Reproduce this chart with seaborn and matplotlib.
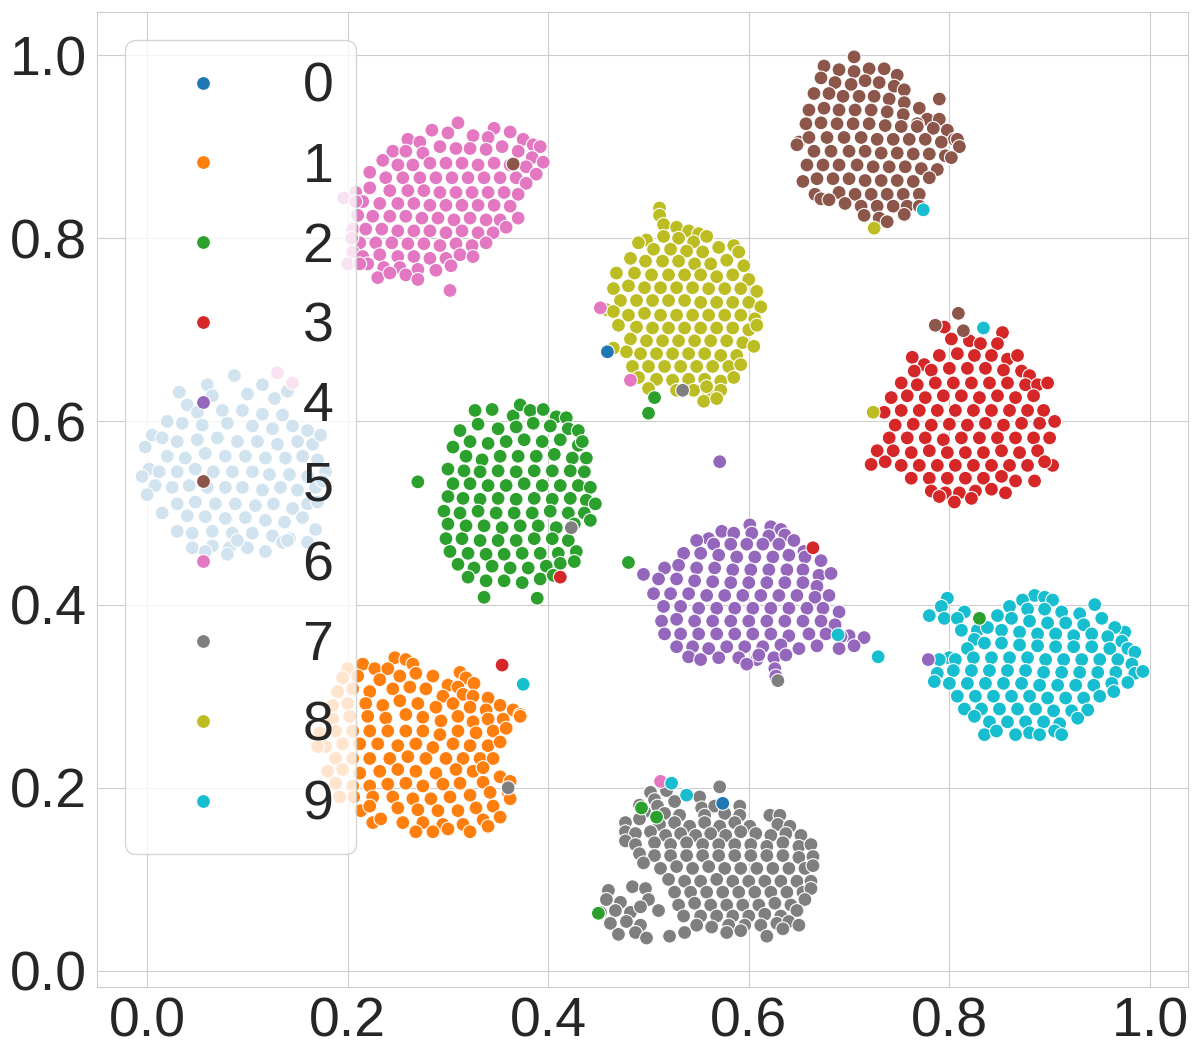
import matplotlib
matplotlib.use("Agg")
import matplotlib.pyplot as plt
import seaborn as sns
import pandas as pd

pts_0 = [(.087,.650),(.060,.640),(.032,.632),(.065,.628),(.040,.618),(.100,.630),(.127,.625),(.140,.633),(.115,.640),
(.050,.610),(.075,.612),(.095,.612),(.115,.608),(.135,.607),(.005,.585),(.020,.600),(.035,.598),(.055,.596),(.080,.598),(.105,.595),(.125,.592),(.145,.595),(.160,.590),
(-.002,.572),(.015,.582),(.030,.578),(.050,.580),(.070,.582),(.090,.578),(.110,.578),(.130,.575),(.150,.578),(.165,.575),(.173,.585),
(.002,.548),(.020,.562),(.038,.560),(.058,.565),(.078,.562),(.098,.562),(.118,.560),(.138,.560),(.155,.562),(.170,.558),
(-.005,.540),(.012,.545),(.030,.545),(.048,.548),(.066,.545),(.085,.545),(.105,.545),(.122,.542),(.142,.542),(.160,.540),(.178,.545),
(.008,.530),(.025,.528),(.042,.530),(.060,.528),(.078,.528),(.095,.528),(.115,.525),(.133,.528),(.150,.525),(.168,.528),(.175,.535),
(.000,.520),(.030,.510),(.048,.512),(.068,.510),(.088,.510),(.108,.508),(.126,.510),(.145,.505),(.160,.510),(.170,.512),
(.015,.500),(.040,.497),(.058,.496),(.078,.494),(.098,.495),(.118,.492),(.137,.490),(.155,.495),(.168,.482),
(.030,.480),(.045,.478),(.065,.480),(.085,.478),(.105,.478),(.125,.475),(.142,.472),(.160,.468),
(.045,.462),(.065,.464),(.082,.462),(.100,.462),(.118,.458),(.135,.468),(.140,.470),(.058,.458),(.090,.470),(.080,.455)]

pts_1 = [(.247,.342),(.258,.340),(.265,.335),(.215,.335),(.227,.330),(.240,.330),(.200,.330),(.312,.326),(.318,.320),
(.195,.320),(.210,.322),(.232,.318),(.252,.322),(.268,.325),(.285,.322),(.300,.312),(.310,.310),(.326,.314),
(.190,.305),(.205,.308),(.222,.305),(.245,.308),(.262,.310),(.278,.308),(.295,.300),(.315,.302),(.325,.300),(.340,.298),
(.185,.290),(.200,.292),(.218,.292),(.235,.290),(.252,.295),(.270,.292),(.288,.288),(.305,.292),(.322,.288),(.338,.285),(.352,.290),(.365,.285),(.372,.280),
(.185,.275),(.202,.278),(.220,.278),(.238,.276),(.258,.280),(.275,.277),(.293,.273),(.310,.278),(.325,.272),(.340,.275),(.355,.275),(.372,.278),
(.172,.260),(.188,.262),(.205,.262),(.222,.262),(.240,.262),(.258,.262),(.275,.262),(.292,.258),(.310,.262),(.328,.260),(.345,.262),(.358,.265),
(.178,.245),(.195,.248),(.212,.248),(.230,.248),(.250,.246),(.268,.248),(.285,.244),(.305,.248),(.322,.246),(.340,.246),(.352,.250),
(.170,.245),(.188,.232),(.205,.232),(.222,.232),(.242,.232),(.260,.234),(.278,.232),(.298,.232),(.315,.232),(.332,.232),(.345,.232),
(.180,.218),(.195,.220),(.212,.216),(.232,.218),(.250,.220),(.268,.218),(.288,.216),(.308,.220),(.325,.218),(.335,.222),
(.188,.205),(.205,.202),(.222,.202),(.240,.204),(.258,.205),(.275,.202),(.295,.204),(.312,.205),(.335,.206),(.352,.212),(.362,.207),
(.192,.190),(.206,.190),(.225,.190),(.245,.190),(.265,.188),(.283,.188),(.302,.190),(.322,.192),(.342,.195),(.360,.195),
(.213,.175),(.222,.180),(.250,.178),(.270,.176),(.290,.175),(.310,.175),(.328,.178),(.345,.180),(.362,.188),
(.225,.162),(.233,.166),(.255,.162),(.275,.162),(.295,.160),(.315,.160),(.335,.165),(.352,.168),
(.268,.152),(.285,.152),(.300,.155),(.322,.152),(.340,.158)]

pts_2 = [(.327,.612),(.344,.613),(.365,.606),(.372,.618),(.382,.612),(.395,.613),(.408,.605),(.418,.604),
(.312,.590),(.330,.597),(.350,.592),(.368,.594),(.385,.598),(.402,.595),(.420,.592),(.430,.590),
(.305,.572),(.322,.578),(.340,.576),(.358,.578),(.376,.580),(.394,.578),(.412,.580),(.430,.574),(.434,.578),
(.318,.562),(.334,.558),(.352,.562),(.370,.562),(.388,.562),(.406,.564),(.424,.560),(.438,.560),
(.300,.548),(.316,.546),(.332,.545),(.350,.546),(.368,.545),(.386,.546),(.404,.546),(.422,.546),(.436,.545),
(.305,.532),(.322,.532),(.340,.530),(.358,.530),(.376,.532),(.394,.530),(.412,.530),(.430,.530),(.442,.528),
(.300,.518),(.315,.516),(.332,.515),(.350,.516),(.368,.515),(.386,.516),(.404,.515),(.422,.516),(.438,.514),(.447,.510),
(.296,.502),(.312,.500),(.330,.502),(.348,.500),(.366,.500),(.384,.500),(.402,.502),(.420,.500),(.436,.500),
(.300,.488),(.318,.486),(.336,.486),(.354,.484),(.372,.486),(.390,.486),(.408,.484),(.426,.488),(.442,.492),
(.298,.472),(.314,.472),(.332,.470),(.350,.470),(.368,.470),(.386,.472),(.404,.472),(.420,.470),
(.302,.458),(.320,.456),(.338,.455),(.356,.455),(.374,.456),(.392,.456),(.410,.456),(.428,.458),
(.310,.444),(.326,.440),(.344,.442),(.362,.440),(.380,.440),(.398,.442),(.412,.445),
(.320,.430),(.338,.426),(.356,.426),(.374,.424),(.392,.428),(.405,.432),(.336,.408),(.389,.407)]

pts_3 = [(.795,.703),(.820,.688),(.802,.690),(.831,.685),(.853,.697),(.848,.685),(.763,.670),
(.775,.662),(.790,.672),(.808,.674),(.825,.672),(.842,.672),(.858,.668),(.868,.672),
(.765,.655),(.782,.656),(.800,.658),(.818,.658),(.836,.658),(.854,.656),(.872,.655),(.880,.650),
(.752,.642),(.768,.640),(.786,.642),(.804,.642),(.822,.642),(.840,.642),(.858,.642),(.876,.640),(.888,.640),
(.742,.626),(.758,.628),(.776,.626),(.794,.628),(.812,.628),(.830,.626),(.848,.628),(.866,.626),(.884,.628),(.898,.642),
(.735,.610),(.752,.612),(.770,.612),(.788,.612),(.806,.612),(.824,.612),(.842,.612),(.860,.612),(.878,.612),(.894,.612),
(.746,.596),(.764,.597),(.782,.596),(.800,.597),(.818,.596),(.836,.598),(.854,.596),(.872,.598),(.890,.598),(.905,.600),
(.740,.582),(.758,.582),(.776,.582),(.794,.580),(.812,.582),(.830,.582),(.848,.582),(.866,.582),(.884,.582),(.900,.582),
(.728,.568),(.744,.568),(.762,.566),(.780,.568),(.798,.566),(.816,.566),(.834,.566),(.852,.568),(.870,.566),(.888,.568),
(.722,.553),(.736,.556),(.752,.552),(.770,.552),(.788,.552),(.806,.552),(.824,.552),(.842,.552),(.860,.552),(.878,.552),(.903,.552),(.895,.556),
(.762,.538),(.780,.538),(.798,.538),(.816,.538),(.834,.538),(.852,.540),(.866,.535),(.885,.535),
(.782,.524),(.796,.522),(.810,.522),(.826,.524),(.842,.526),(.856,.522),(.805,.512),(.790,.518),(.822,.516)]

pts_4 = [(.601,.487),(.622,.485),(.632,.482),(.573,.480),(.585,.478),(.603,.478),(.620,.475),(.636,.476),(.560,.472),
(.548,.470),(.565,.466),(.582,.466),(.598,.466),(.614,.466),(.630,.466),(.645,.470),(.655,.458),
(.535,.456),(.552,.456),(.570,.454),(.588,.452),(.606,.452),(.624,.452),(.640,.454),(.656,.452),(.672,.448),
(.516,.440),(.530,.443),(.548,.440),(.566,.440),(.584,.438),(.602,.438),(.620,.438),(.638,.438),(.654,.438),(.670,.432),(.682,.434),
(.495,.433),(.510,.428),(.528,.428),(.546,.426),(.564,.425),(.582,.424),(.600,.424),(.618,.424),(.636,.424),(.654,.424),(.668,.420),
(.505,.412),(.522,.412),(.540,.412),(.558,.410),(.576,.410),(.594,.410),(.612,.410),(.630,.410),(.648,.410),(.666,.408),(.680,.410),
(.515,.398),(.532,.398),(.550,.396),(.568,.396),(.586,.396),(.604,.396),(.622,.396),(.640,.396),(.658,.396),(.674,.396),(.690,.392),
(.513,.382),(.528,.384),(.546,.382),(.564,.382),(.582,.382),(.600,.382),(.618,.382),(.636,.382),(.654,.382),(.672,.382),(.686,.378),(.700,.366),
(.516,.368),(.532,.368),(.550,.368),(.568,.368),(.586,.368),(.604,.368),(.622,.368),(.640,.366),(.660,.368),(.677,.368),(.692,.365),(.715,.364),(.705,.355),(.690,.352),
(.528,.354),(.544,.354),(.560,.352),(.578,.354),(.596,.354),(.614,.354),(.632,.356),(.650,.352),(.668,.355),
(.540,.343),(.552,.340),(.570,.342),(.590,.342),(.608,.340),(.625,.342),(.598,.335),(.626,.330),(.627,.322),(.610,.345),(.637,.345)]

pts_5 = [(.705,.998),(.675,.988),(.690,.984),(.705,.982),(.720,.985),(.735,.985),(.748,.978),
(.672,.975),(.686,.970),(.702,.968),(.716,.972),(.730,.970),(.745,.966),(.755,.962),(.680,.958),
(.665,.958),(.694,.955),(.710,.955),(.725,.955),(.740,.952),(.755,.948),(.770,.942),(.790,.952),(.778,.930),
(.660,.940),(.675,.942),(.690,.940),(.706,.940),(.722,.940),(.738,.938),(.754,.935),(.768,.925),(.790,.930),
(.657,.925),(.672,.926),(.688,.925),(.704,.925),(.720,.925),(.736,.923),(.752,.922),(.768,.922),(.784,.920),(.798,.918),(.805,.908),
(.650,.905),(.660,.910),(.678,.910),(.695,.910),(.712,.910),(.728,.908),(.744,.908),(.760,.908),(.776,.908),(.792,.905),(.808,.908),(.810,.900),
(.648,.902),(.665,.895),(.682,.895),(.700,.895),(.716,.895),(.732,.893),(.748,.893),(.764,.892),(.780,.892),(.796,.890),(.802,.888),
(.658,.880),(.674,.880),(.690,.880),(.708,.880),(.724,.878),(.740,.878),(.756,.878),(.772,.876),(.788,.875),
(.654,.862),(.668,.865),(.684,.865),(.700,.865),(.716,.863),(.732,.863),(.748,.863),(.764,.862),(.780,.866),
(.666,.848),(.672,.843),(.690,.850),(.706,.848),(.722,.848),(.738,.848),(.754,.848),(.770,.848),
(.680,.842),(.696,.838),(.712,.835),(.728,.835),(.744,.835),(.758,.835),(.770,.835),
(.715,.825),(.730,.822),(.738,.818),(.755,.826)]

pts_6 = [(.310,.926),(.284,.918),(.300,.915),(.346,.920),(.362,.916),(.260,.908),(.272,.905),(.325,.912),(.340,.910),(.375,.908),(.385,.902),(.392,.900),
(.245,.895),(.258,.895),(.275,.893),(.292,.900),(.308,.898),(.322,.898),(.338,.897),(.354,.900),(.370,.895),(.384,.888),(.395,.883),
(.235,.885),(.250,.880),(.265,.880),(.282,.882),(.298,.882),(.314,.882),(.330,.880),(.346,.882),(.362,.880),(.378,.878),(.388,.870),
(.222,.872),(.238,.866),(.255,.866),(.272,.866),(.288,.866),(.304,.866),(.320,.866),(.336,.866),(.352,.866),(.368,.866),(.378,.860),
(.208,.850),(.222,.855),(.242,.852),(.260,.852),(.276,.852),(.292,.850),(.308,.850),(.324,.850),(.340,.850),(.356,.850),(.370,.848),
(.215,.840),(.232,.838),(.250,.838),(.266,.838),(.282,.836),(.298,.836),(.314,.836),(.330,.836),(.346,.836),(.362,.835),
(.210,.825),(.225,.824),(.242,.824),(.258,.824),(.274,.822),(.290,.822),(.306,.820),(.322,.822),(.338,.820),(.352,.820),(.370,.822),
(.205,.810),(.218,.810),(.234,.810),(.250,.808),(.266,.808),(.282,.808),(.298,.806),(.314,.808),(.330,.806),(.345,.806),(.358,.812),
(.212,.795),(.228,.795),(.244,.795),(.260,.794),(.276,.794),(.292,.792),(.308,.794),(.324,.792),(.338,.795),
(.205,.785),(.215,.780),(.232,.782),(.250,.780),(.266,.780),(.282,.778),(.298,.778),(.312,.782),(.325,.780),
(.220,.772),(.236,.768),(.252,.768),(.270,.766),(.288,.765),(.303,.770),(.230,.757),(.242,.762),(.258,.760),(.270,.755),(.302,.743),
(.200,.772),(.196,.844),(.208,.840),(.204,.800),(.212,.772)]

pts_7 = [(.571,.201),(.502,.195),(.518,.197),(.506,.187),(.526,.185),(.551,.190),(.491,.181),(.509,.180),(.553,.178),(.566,.180),(.591,.180),
(.496,.174),(.516,.172),(.531,.170),(.556,.170),(.576,.172),(.591,.170),(.621,.170),(.631,.170),
(.477,.162),(.491,.166),(.511,.160),(.526,.162),(.541,.158),(.556,.162),(.571,.158),(.586,.162),(.601,.158),(.629,.160),(.641,.158),
(.477,.152),(.487,.150),(.502,.152),(.517,.148),(.532,.150),(.547,.148),(.562,.150),(.577,.148),(.592,.152),(.607,.150),(.622,.148),(.637,.150),(.652,.148),
(.477,.142),(.487,.138),(.506,.140),(.522,.138),(.538,.140),(.554,.138),(.570,.138),(.586,.138),(.602,.138),(.618,.136),(.634,.140),(.650,.136),(.662,.138),
(.491,.128),(.506,.126),(.522,.126),(.538,.126),(.554,.126),(.570,.126),(.586,.126),(.602,.126),(.618,.126),(.634,.126),(.650,.124),(.664,.125),
(.495,.118),(.512,.112),(.528,.114),(.544,.112),(.560,.114),(.576,.112),(.592,.112),(.608,.112),(.624,.112),(.640,.112),(.656,.112),(.664,.115),
(.520,.100),(.536,.098),(.552,.098),(.568,.100),(.584,.098),(.600,.098),(.616,.098),(.632,.098),(.648,.098),(.662,.098),
(.460,.088),(.484,.092),(.497,.090),(.526,.086),(.542,.086),(.558,.086),(.574,.086),(.590,.086),(.606,.086),(.622,.086),(.638,.086),(.654,.086),(.662,.090),
(.458,.078),(.472,.075),(.500,.078),(.530,.072),(.546,.074),(.562,.072),(.578,.072),(.594,.072),(.610,.072),(.626,.074),(.642,.072),(.656,.078),
(.452,.064),(.467,.066),(.482,.064),(.492,.070),(.510,.066),(.535,.060),(.552,.060),(.568,.060),(.584,.060),(.600,.060),(.616,.062),(.632,.060),(.648,.066),
(.462,.052),(.478,.054),(.492,.050),(.548,.050),(.563,.048),(.580,.050),(.596,.050),(.612,.050),(.628,.052),(.640,.054),
(.470,.040),(.487,.042),(.498,.036),(.521,.038),(.536,.042),(.578,.042),(.592,.044),(.618,.038),(.634,.046),(.650,.050)]

pts_8 = [(.511,.833),(.511,.825),(.515,.815),(.528,.812),(.540,.808),(.550,.805),(.498,.798),(.515,.802),(.530,.800),(.545,.796),(.558,.802),
(.490,.795),(.505,.788),(.522,.788),(.538,.786),(.554,.785),(.570,.790),(.585,.792),(.590,.785),
(.482,.778),(.497,.775),(.514,.775),(.530,.775),(.546,.772),(.562,.772),(.578,.776),(.595,.770),
(.468,.762),(.486,.762),(.503,.760),(.520,.760),(.536,.760),(.552,.760),(.568,.758),(.584,.760),(.600,.755),
(.465,.745),(.480,.748),(.496,.746),(.512,.746),(.528,.746),(.544,.746),(.560,.745),(.576,.745),(.592,.745),(.608,.742),
(.458,.722),(.472,.732),(.488,.732),(.504,.732),(.520,.732),(.536,.732),(.552,.730),(.568,.730),(.584,.730),(.600,.730),(.612,.725),
(.465,.720),(.480,.716),(.496,.718),(.512,.716),(.528,.716),(.544,.716),(.560,.716),(.576,.716),(.592,.716),(.606,.712),
(.470,.705),(.488,.703),(.504,.702),(.520,.702),(.536,.702),(.552,.702),(.568,.702),(.584,.702),(.600,.700),(.608,.705),
(.465,.680),(.482,.690),(.498,.688),(.514,.688),(.530,.688),(.546,.688),(.562,.688),(.578,.688),(.594,.686),(.605,.682),
(.478,.676),(.492,.674),(.508,.674),(.524,.674),(.540,.674),(.556,.674),(.572,.672),(.588,.672),
(.484,.660),(.500,.660),(.516,.660),(.532,.660),(.548,.660),(.564,.660),(.580,.660),(.592,.662),
(.490,.648),(.508,.646),(.524,.645),(.540,.646),(.556,.646),(.572,.644),(.585,.648),
(.500,.636),(.528,.634),(.545,.634),(.560,.632),(.572,.634),(.555,.622),(.558,.638),(.568,.625)]

pts_9 = [(.885,.410),(.895,.408),(.798,.407),(.873,.405),(.903,.405),(.945,.400),(.860,.398),(.878,.395),(.895,.395),(.912,.392),(.930,.390),(.792,.398),(.815,.392),
(.780,.388),(.795,.385),(.808,.385),(.848,.388),(.862,.385),(.880,.382),(.898,.380),(.916,.380),(.934,.378),(.952,.385),(.975,.370),(.965,.375),
(.812,.372),(.828,.372),(.838,.375),(.852,.372),(.870,.370),(.888,.368),(.906,.368),(.924,.366),(.942,.368),(.958,.365),(.972,.360),(.825,.362),
(.800,.342),(.818,.352),(.835,.358),(.852,.358),(.870,.356),(.888,.355),(.906,.354),(.924,.354),(.942,.354),(.960,.352),(.978,.352),(.985,.348),
(.790,.340),(.806,.340),(.824,.342),(.842,.342),(.860,.342),(.878,.342),(.896,.340),(.914,.340),(.932,.340),(.950,.340),(.968,.340),(.982,.335),
(.788,.325),(.804,.328),(.822,.328),(.840,.328),(.858,.328),(.876,.328),(.894,.326),(.912,.326),(.930,.326),(.948,.326),(.966,.326),(.985,.325),(.993,.327),
(.785,.316),(.800,.314),(.818,.314),(.836,.314),(.854,.314),(.872,.314),(.890,.312),(.908,.312),(.926,.312),(.944,.312),(.962,.314),(.978,.315),
(.808,.300),(.826,.300),(.844,.300),(.862,.300),(.880,.300),(.898,.298),(.916,.298),(.934,.298),(.950,.300),(.964,.305),
(.815,.286),(.832,.286),(.850,.286),(.868,.286),(.886,.286),(.904,.284),(.922,.284),(.938,.285),(.825,.278),(.840,.272),(.858,.272),(.876,.272),(.894,.272),(.910,.270),(.928,.276),
(.835,.258),(.847,.262),(.866,.258),(.880,.260),(.890,.258),(.905,.262),(.912,.258)]

outlier_x = [.459,.574,.774,.725,.809,.786,.814,.834,.724,.506,.500,.571,.452,.482,.534,.365,.270,.423,.412,.480,.426,
             .664,.689,.729,.779,.629,.830,.354,.375,.360,.512,.523,.538,.493,.508,.450,.130,.145]
outlier_y = [.676,.183,.831,.811,.718,.705,.699,.702,.610,.626,.609,.556,.724,.645,.634,.881,.534,.484,.430,.446,.447,
             .462,.367,.343,.340,.317,.385,.334,.313,.200,.207,.205,.192,.178,.168,.063,.653,.642]
outlier_label = [0,0,9,8,5,5,5,9,8,2,2,4,6,6,7,5,2,7,3,2,2,3,9,9,4,7,2,3,9,7,6,9,9,2,2,2,6,6]

clusters = [pts_0, pts_1, pts_2, pts_3, pts_4, pts_5, pts_6, pts_7, pts_8, pts_9]
rows = [(x, y, i) for i, c in enumerate(clusters) for x, y in c]
rows += list(zip(outlier_x, outlier_y, outlier_label))
df = pd.DataFrame(rows, columns=["x", "y", "label"])

sns.set_style("whitegrid")
plt.rcParams["font.family"] = ["Liberation Sans", "DejaVu Sans"]
fig, ax = plt.subplots(figsize=(12, 10.5), dpi=100)
sns.scatterplot(data=df, x="x", y="y", hue="label", palette="tab10", s=100, legend="full", ax=ax)
ax.set_xlim(-.05, 1.038)
ax.set_ylim(-.0175, 1.047)
ax.set_xticks([0, .2, .4, .6, .8, 1.0])
ax.set_yticks([0, .2, .4, .6, .8, 1.0])
ax.tick_params(labelsize=40)
ax.set_xlabel("")
ax.set_ylabel("")
ax.legend(fontsize=40, loc="upper left")
fig.subplots_adjust(left=97/1200, right=1188/1200, top=1-12/1050, bottom=1-987/1050)
fig.savefig("out.png", dpi=100)
